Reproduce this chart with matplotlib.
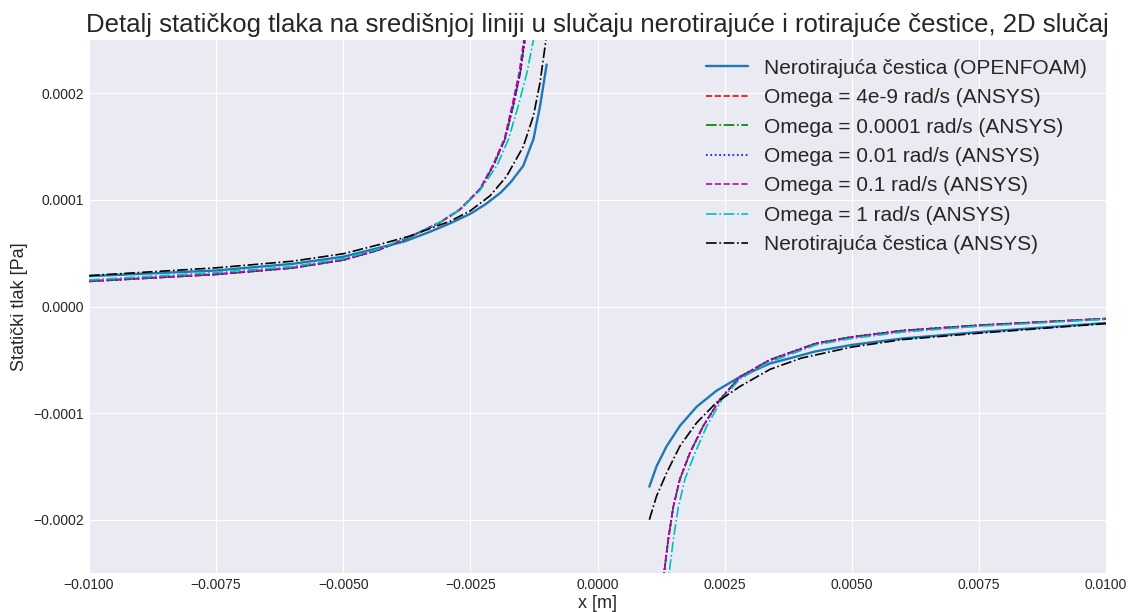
import numpy as np
from matplotlib import pyplot as plt

plt.style.use("seaborn-v0_8-darkgrid")
plt.rcParams['font.family'] = ['Liberation Sans', 'DejaVu Sans']
plt.rcParams['figure.figsize'] = [11.28, 6.12]
plt.rcParams['figure.dpi'] = 100

nan = np.nan

# x [m], static pressure [Pa]; nan splits the branch left / right of the particle
openfoam_x = [-0.0100, -0.0075, -0.0060, -0.0050, -0.0043, -0.0038, -0.0033, -0.0029, -0.0025, -0.0022,
              -0.0019, -0.0017, -0.00146, -0.00126, -0.00113, -0.0010,
              nan,
              0.00102, 0.00116, 0.00136, 0.00162, 0.00195, 0.00234, 0.0028, 0.00339, 0.0043, 0.0050,
              0.0060, 0.0075, 0.0100]
openfoam_y = [2.85e-5, 3.38e-5, 4.0e-5, 4.67e-5, 5.5e-5, 6.1e-5, 7.0e-5, 7.8e-5, 8.7e-5, 9.6e-5,
              1.07e-4, 1.17e-4, 1.32e-4, 1.57e-4, 1.88e-4, 2.27e-4,
              nan,
              -1.69e-4, -1.50e-4, -1.31e-4, -1.12e-4, -9.4e-5, -7.9e-5, -6.6e-5, -5.35e-5, -4.2e-5, -3.6e-5,
              -3.0e-5, -2.4e-5, -1.55e-5]

omega_4e9_x = [-0.0100, -0.0075, -0.0060, -0.0050, -0.0043, -0.0037, -0.0031, -0.0027, -0.00231, -0.00205,
               -0.00182, -0.00166, -0.00152, -0.00143, -0.00137,
               nan,
               0.00125, 0.00131, 0.00139, 0.00149, 0.00162, 0.00182, 0.00208, 0.00241, 0.0028, 0.00339,
               0.0043, 0.0050, 0.0060, 0.0075, 0.0100]
omega_4e9_y = [2.35e-5, 3.0e-5, 3.6e-5, 4.35e-5, 5.3e-5, 6.5e-5, 7.86e-5, 9.1e-5, 1.10e-4, 1.32e-4,
               1.57e-4, 1.88e-4, 2.19e-4, 2.5e-4, 2.75e-4,
               nan,
               -2.8e-4, -2.5e-4, -2.19e-4, -1.88e-4, -1.62e-4, -1.37e-4, -1.12e-4, -8.7e-5, -6.6e-5, -5.0e-5,
               -3.45e-5, -2.85e-5, -2.25e-5, -1.75e-5, -1.13e-5]

omega_1e4_x = omega_4e9_x
omega_1e4_y = [2.36e-5, 3.01e-5, 3.61e-5, 4.36e-5, 5.3e-5, 6.5e-5, 7.87e-5, 9.1e-5, 1.10e-4, 1.32e-4,
               1.57e-4, 1.88e-4, 2.19e-4, 2.5e-4, 2.75e-4,
               nan,
               -2.8e-4, -2.5e-4, -2.19e-4, -1.88e-4, -1.62e-4, -1.37e-4, -1.12e-4, -8.7e-5, -6.6e-5, -5.0e-5,
               -3.45e-5, -2.85e-5, -2.25e-5, -1.75e-5, -1.13e-5]

omega_001_x = omega_4e9_x
omega_001_y = [2.37e-5, 3.02e-5, 3.62e-5, 4.37e-5, 5.31e-5, 6.51e-5, 7.88e-5, 9.12e-5, 1.101e-4, 1.322e-4,
               1.572e-4, 1.882e-4, 2.192e-4, 2.5e-4, 2.76e-4,
               nan,
               -2.8e-4, -2.5e-4, -2.19e-4, -1.88e-4, -1.62e-4, -1.37e-4, -1.12e-4, -8.7e-5, -6.6e-5, -5.0e-5,
               -3.45e-5, -2.85e-5, -2.26e-5, -1.76e-5, -1.14e-5]

omega_01_x = [-0.0100, -0.0075, -0.0060, -0.0050, -0.0043, -0.0037, -0.0031, -0.0027, -0.00231, -0.00206,
              -0.00183, -0.00168, -0.00154, -0.00145, -0.00139,
              nan,
              0.00125, 0.00131, 0.00139, 0.00149, 0.00162, 0.00182, 0.00208, 0.00241, 0.0028, 0.00339,
              0.0043, 0.0050, 0.0060, 0.0075, 0.0100]
omega_01_y = [2.4e-5, 3.05e-5, 3.65e-5, 4.4e-5, 5.35e-5, 6.55e-5, 7.9e-5, 9.15e-5, 1.105e-4, 1.325e-4,
              1.575e-4, 1.885e-4, 2.195e-4, 2.5e-4, 2.75e-4,
              nan,
              -2.8e-4, -2.5e-4, -2.19e-4, -1.88e-4, -1.62e-4, -1.37e-4, -1.12e-4, -8.75e-5, -6.65e-5, -5.05e-5,
              -3.5e-5, -2.9e-5, -2.3e-5, -1.8e-5, -1.15e-5]

omega_1_x = [-0.0100, -0.0075, -0.0060, -0.0050, -0.0043, -0.0037, -0.0031, -0.0027, -0.00231, -0.00198,
             -0.00175, -0.00156, -0.00139, -0.00126, -0.0012,
             nan,
             0.00135, 0.00141, 0.00149, 0.00159, 0.00172, 0.00192, 0.00215, 0.00245, 0.0028, 0.00339,
             0.0043, 0.0050, 0.0060, 0.0075, 0.0100]
omega_1_y = [2.5e-5, 3.2e-5, 3.75e-5, 4.5e-5, 5.4e-5, 6.55e-5, 7.9e-5, 9.1e-5, 1.09e-4, 1.32e-4,
             1.57e-4, 1.88e-4, 2.19e-4, 2.5e-4, 2.65e-4,
             nan,
             -2.8e-4, -2.5e-4, -2.19e-4, -1.88e-4, -1.62e-4, -1.37e-4, -1.12e-4, -8.7e-5, -6.8e-5, -5.2e-5,
             -3.6e-5, -3.0e-5, -2.4e-5, -1.85e-5, -1.2e-5]

ansys_still_x = [-0.0100, -0.0075, -0.0060, -0.0050, -0.0043, -0.0037, -0.0033, -0.0029, -0.00251, -0.00211,
                 -0.00179, -0.00146, -0.00126, -0.00113, -0.0010,
                 nan,
                 0.00102, 0.00116, 0.00136, 0.00162, 0.00195, 0.00234, 0.0028, 0.00339, 0.0040, 0.0050,
                 0.0060, 0.0075, 0.0100]
ansys_still_y = [2.9e-5, 3.63e-5, 4.25e-5, 4.95e-5, 5.8e-5, 6.6e-5, 7.3e-5, 8.0e-5, 8.95e-5, 1.04e-4,
                 1.22e-4, 1.5e-4, 1.79e-4, 2.1e-4, 2.55e-4,
                 nan,
                 -2.0e-4, -1.78e-4, -1.56e-4, -1.31e-4, -1.09e-4, -9.0e-5, -7.5e-5, -5.9e-5, -4.85e-5, -3.8e-5,
                 -3.1e-5, -2.5e-5, -1.6e-5]

fig = plt.figure()
ax = fig.add_axes([0.0789, 0.0637, 0.9016, 0.8709])

ax.plot(openfoam_x, openfoam_y, color="tab:blue", linestyle="-", linewidth=1.7, label="Nerotirajuća čestica (OPENFOAM)")
ax.plot(omega_4e9_x, omega_4e9_y, "r--", linewidth=1.2, label="Omega = 4e-9 rad/s (ANSYS)")
ax.plot(omega_1e4_x, omega_1e4_y, "g-.", linewidth=1.2, label="Omega = 0.0001 rad/s (ANSYS)")
ax.plot(omega_001_x, omega_001_y, "b:", linewidth=1.2, label="Omega = 0.01 rad/s (ANSYS)")
ax.plot(omega_01_x, omega_01_y, "m--", linewidth=1.2, label="Omega = 0.1 rad/s (ANSYS)")
ax.plot(omega_1_x, omega_1_y, "c-.", linewidth=1.2, label="Omega = 1 rad/s (ANSYS)")
ax.plot(ansys_still_x, ansys_still_y, "k-.", linewidth=1.2, label="Nerotirajuća čestica (ANSYS)")

ax.set_xlim(-0.01, 0.01)
ax.set_ylim(-0.00025, 0.00025)
ax.set_xticks([-0.01, -0.0075, -0.005, -0.0025, 0.0, 0.0025, 0.005, 0.0075, 0.01])
ax.set_yticks([-0.0002, -0.0001, 0.0, 0.0001, 0.0002])
ax.set_xticklabels([("%.4f" % t).replace("-", "\u2212") for t in ax.get_xticks()])
ax.set_yticklabels([("%.4f" % t).replace("-", "\u2212") for t in ax.get_yticks()])
ax.tick_params(labelsize=10)

ax.set_title("Detalj statičkog tlaka na središnjoj liniji u slučaju nerotirajuće i rotirajuće čestice, 2D slučaj", fontsize=18.5)
ax.set_xlabel("x [m]", fontsize=13, labelpad=2)
ax.set_ylabel("Statički tlak [Pa]", fontsize=13)
ax.legend(loc="upper right", fontsize=15, frameon=False)

plt.savefig("out.png")
